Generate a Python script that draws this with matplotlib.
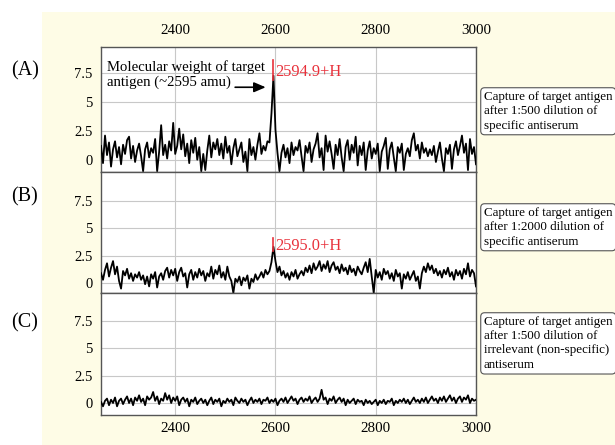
import numpy as np
import matplotlib
matplotlib.use("Agg")
import matplotlib.pyplot as plt
from matplotlib.patches import Rectangle

plt.rcParams['font.family'] = ['Liberation Serif', 'DejaVu Serif']

# ---------------- data ----------------
mz_start, mz_end = 2252, 3000
x_ticks = [2400, 2600, 2800, 3000]
y_ticks = [0, 2.5, 5, 7.5]
y_tick_labels = ["0", "2.5", "5", "7.5"]
panel_labels = ["(A)", "(B)", "(C)"]
box_texts = [
    "Capture of target antigen\nafter 1:500 dilution of\nspecific antiserum",
    "Capture of target antigen\nafter 1:2000 dilution of\nspecific antiserum",
    "Capture of target antigen\nafter 1:500 dilution of\nirrelevant (non-specific)\nantiserum",
]
peak_labels = ["2594.9+H", "2595.0+H"]
peak_mz = [2595, 2595]
peak_marker_range = [(6.9, 8.7), (2.9, 4.1)]

intensity_a = [
    1.2, -0.3, 2.1, 0.4, 1.5, -0.6, 0.9, 1.6, 0.2, 1.1,
    -0.4, 1.3, 0.5, 1.7, 2.0, 0.1, 1.2, -0.2, 0.8, 1.4,
    0.3, -1.0, 0.9, 1.5, 0.2, 1.0, 0.6, 1.8, -1.0, 0.7,
    3.0, 0.4, 1.3, 0.1, 1.6, 0.8, 3.2, 0.5, 1.2, 2.7,
    0.9, 2.2, 0.3, 1.4, -0.3, 1.7, 0.6, 1.9, 0.0, 1.1,
    -1.0, 0.5, -0.9, 0.8, 2.1, 0.2, 1.5, 0.9, 1.8, 0.4,
    1.4, 0.1, 2.0, 0.6, 1.2, -0.4, 1.0, 1.8, 0.3, 0.9,
    1.5, -0.2, 0.7, -1.0, 1.8, 0.4, 1.1, 0.0, 1.3, 2.3,
    0.5, 1.2, 0.8, 1.6, 1.5, 4.0, 7.3, 2.6, 0.6, -1.0,
    0.6, 1.3, 0.2, 1.0, -0.3, 1.5, 0.4, 1.1, 0.8, 1.7,
    0.3, -1.0, 1.2, 0.6, 1.5, -0.2, 0.9, 1.4, 2.3, 0.2,
    1.0, -0.9, 2.1, 0.7, 1.6, 0.5, -0.8, 1.3, 0.4, 1.8,
    0.2, -1.0, 1.1, 1.7, 0.0, 1.3, 0.6, 2.0, -0.5, 1.2,
    0.4, 1.5, -0.9, 0.8, 1.6, 0.1, 1.0, 0.5, 1.4, -1.0,
    0.7, 1.2, 1.9, -0.8, 0.9, 1.5, 0.2, -1.0, 1.1, 0.6,
    1.4, -0.9, 0.5, 1.0, 0.3, 1.7, 2.3, 0.8, 1.3, 0.1,
    1.5, 0.6, 1.0, 0.3, 0.9, 0.4, 1.2, -0.2, 0.7, 1.5,
    0.1, -1.0, 1.0, 0.5, 1.3, -0.8, 0.9, 1.6, 0.4, 1.2,
    2.1, 0.6, 1.4, -0.9, 1.8, 0.5, 1.1, -0.4,
]

intensity_b = [
    0.9, 0.3, 1.2, 1.8, 0.6, 1.4, 2.0, 0.8, 1.5, 0.2,
    -0.5, 1.1, 0.7, 1.3, 0.4, 0.9, 0.2, 0.8, 0.5, 1.0,
    0.3, 0.7, -0.1, 0.6, -0.3, 0.8, 0.4, 1.0, -0.4, 0.6,
    0.9, 0.3, 1.1, 1.4, 0.5, 1.2, 0.7, 1.3, 0.2, 1.0,
    1.4, 0.6, 0.9, -0.4, 0.8, 1.2, 0.3, 1.0, 0.5, 1.3,
    0.7, 1.1, 0.2, 0.9, 0.6, 1.5, 0.4, 1.2, 0.8, 1.6,
    0.5, 1.0, 0.3, 1.5, 0.6, 0.2, -0.9, 0.4, 0.1, 0.6,
    -0.2, 0.5, 0.2, 0.7, -0.5, 0.4, 0.1, 0.8, 0.3, 0.6,
    1.0, 0.5, 1.2, 0.8, 1.1, 1.9, 3.3, 2.0, 1.0, 1.5,
    0.7, 1.1, 0.5, 0.9, 0.3, 1.0, 0.6, 1.2, 0.4, 0.8,
    1.1, 0.7, 1.4, 1.0, 1.6, 0.9, 1.8, 1.2, 1.5, 2.0,
    1.1, 1.7, 1.3, 2.0, 1.0, 1.6, 1.9, 1.2, 1.5, 0.9,
    1.7, 1.1, 1.4, 0.8, 1.6, 1.0, 1.3, 0.7, 1.5, 1.1,
    0.8, 1.4, 1.9, 1.0, 2.2, 0.6, -0.9, 1.2, 0.5, 1.0,
    0.3, 1.3, 0.8, 1.1, 0.4, 0.9, 0.2, 1.2, 0.6, 0.9,
    -0.5, 0.8, 0.4, 1.0, 0.3, 0.7, 1.1, 0.2, 0.6, -0.5,
    0.9, 1.5, 1.0, 1.8, 1.2, 1.6, 0.9, 1.3, 0.7, 1.1,
    0.5, 1.2, 0.8, 1.4, 0.6, 1.0, 0.3, 1.2, 0.7, 1.1,
    0.4, 1.3, 0.8, 1.8, 0.6, 1.2, 0.9, -0.3,
]

intensity_c = [
    0.1, -0.3, 0.2, 0.4, -0.2, 0.3, 0.0, 0.5, -0.3, 0.2,
    0.4, -0.1, 0.3, 0.6, 0.0, 0.4, -0.2, 0.5, 0.2, 0.7,
    0.1, 0.4, -0.2, 0.6, 0.3, 0.5, 1.0, 0.2, 0.6, -0.1,
    0.4, 0.2, 0.9, 0.3, 0.7, 0.0, 0.5, 0.2, 0.6, -0.2,
    0.3, 0.5, 0.1, 0.4, -0.3, 0.3, 0.1, 0.5, -0.1, 0.2,
    0.4, 0.0, 0.3, -0.2, 0.2, 0.5, -0.1, 0.3, 0.1, 0.4,
    -0.3, 0.2, 0.0, 0.4, 0.1, 0.3, -0.2, 0.5, 0.2, 0.0,
    0.4, 0.1, 0.3, -0.2, 0.2, 0.5, 0.0, 0.3, 0.1, 0.4,
    -0.1, 0.3, 0.2, 0.5, 0.0, 0.3, 0.1, 0.4, -0.2, 0.2,
    0.4, 0.1, 0.5, 0.0, 0.3, 0.6, 0.2, 0.4, -0.1, 0.3,
    0.5, 0.1, 0.4, 0.2, 0.6, 0.0, 0.3, 0.5, 0.1, 0.4,
    1.2, 0.3, 0.5, -0.1, 0.4, 0.2, 0.6, 0.0, 0.3, 0.5,
    0.1, 0.4, -0.2, 0.3, 0.0, 0.2, 0.4, -0.1, 0.3, 0.1,
    0.2, -0.2, 0.3, 0.0, 0.2, -0.1, 0.1, 0.3, -0.2, 0.2,
    0.0, 0.3, -0.1, 0.2, 0.1, 0.4, -0.2, 0.2, 0.0, 0.3,
    0.1, 0.4, 0.0, 0.3, -0.1, 0.2, 0.5, 0.1, 0.3, 0.0,
    0.4, 0.1, 0.5, 0.0, 0.3, 0.6, 0.2, 0.4, 0.0, 0.5,
    0.2, 0.6, 0.1, 0.4, 0.7, 0.2, 0.5, 0.0, 0.4, 0.6,
    0.1, 0.5, 0.3, 0.7, 0.0, 0.4, 0.2, 0.3,
]

series = [intensity_a, intensity_b, intensity_c]

# ---------------- figure ----------------
W, H = 615, 445
fig = plt.figure(figsize=(W / 100, H / 100), dpi=100, facecolor="white")

def fx(px):
    return px / W

def fy(py):
    return 1 - py / H

# cream background
fig.patches.append(Rectangle((fx(42), 0), 1 - fx(42), fy(12), transform=fig.transFigure,
                             facecolor="#fefce6", edgecolor="none", zorder=-5))

panels_px = [(47, 172), (172, 293), (293, 415)]
ylims = [(-1.07, 9.8), (-0.9, 10.1), (-1.09, 10.0)]
left_px, right_px = 101, 476
label_y = [71, 197, 323]
box_top = [88, 204, 313]

grid_col = "#c8c8c8"
spine_col = "#555555"
red = "#e8303a"

axes = []
for k, ((t, b), yl) in enumerate(zip(panels_px, ylims)):
    ax = fig.add_axes([fx(left_px), fy(b), fx(right_px - left_px), (b - t) / H])
    vals = series[k]
    mz = np.linspace(mz_start, mz_end, len(vals))
    ax.plot(mz, vals, color="black", lw=1.3, zorder=3)
    ax.set_xlim(mz_start, mz_end)
    ax.set_ylim(*yl)
    ax.set_facecolor("white")
    ax.set_xticks(x_ticks)
    ax.set_yticks(y_ticks)
    ax.set_yticklabels(y_tick_labels)
    ax.grid(True, color=grid_col, lw=0.8, zorder=0)
    ax.tick_params(axis="y", length=0, pad=6, labelsize=10.5)
    if k == 0:
        ax.xaxis.tick_top()
        ax.tick_params(axis="x", length=0, pad=7, labelsize=10.8, top=True, bottom=False,
                       labeltop=True, labelbottom=False)
    elif k == 2:
        ax.tick_params(axis="x", length=0, pad=5, labelsize=10.8)
    else:
        ax.tick_params(axis="x", length=0, labelbottom=False)
    for s in ax.spines.values():
        s.set_color(spine_col)
        s.set_linewidth(1.0)
    axes.append(ax)

    fig.text(fx(25), fy(label_y[k]), panel_labels[k], fontsize=14.5, ha="center", va="center")
    fig.text(fx(484), fy(box_top[k] + 3), box_texts[k], fontsize=9.4, ha="left", va="top",
             linespacing=1.25,
             bbox=dict(boxstyle="round,pad=0.25,rounding_size=0.3", facecolor="white",
                       edgecolor=spine_col, lw=0.8))

# peak markers
for k in range(2):
    ax = axes[k]
    lo, hi = peak_marker_range[k]
    ax.plot([peak_mz[k], peak_mz[k]], [lo, hi], color=red, lw=1.2, zorder=4)
    ax.text(peak_mz[k] + 4, (lo + hi) / 2 - (0.2 if k == 0 else 0.1), peak_labels[k], color=red,
            fontsize=11.8, ha="left", va="center", zorder=5)

# annotation in panel A
axa = axes[0]
axa.text(2264, 7.4, "Molecular weight of target\nantigen (~2595 amu)", fontsize=10.6,
         ha="left", va="center", linespacing=1.15, zorder=5)
axa.annotate("", xy=(2586, 6.3), xytext=(2514, 6.3),
             arrowprops=dict(arrowstyle="-|>,head_length=0.7,head_width=0.3", color="black",
                             lw=1.2), zorder=5)

fig.savefig("out.png", dpi=100, facecolor=fig.get_facecolor())
